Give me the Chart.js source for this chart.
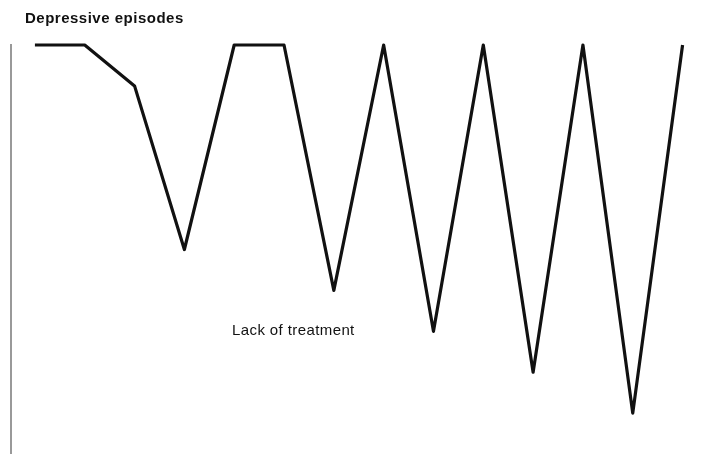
<!DOCTYPE html>
<html>
<head>
<meta charset="utf-8">
<script src="https://cdn.jsdelivr.net/npm/chart.js@4.4.1/dist/chart.umd.min.js"></script>
<style>
  html, body { margin: 0; padding: 0; background: #fff; }
  #wrap { position: relative; width: 703px; height: 454px; }
  .lbl { position: absolute; font-family: "Liberation Sans", Arial, sans-serif; color: #111; white-space: nowrap; }
  #title { left: 25px; top: 9px; font-size: 15px; font-weight: bold; letter-spacing: 0.5px; }
  #note { left: 232px; top: 321px; font-size: 15px; letter-spacing: 0.4px; }
</style>
</head>
<body>
<div id="wrap">
  <canvas id="chart" width="703" height="454"></canvas>
  <div class="lbl" id="title">Depressive episodes</div>
  <div class="lbl" id="note">Lack of treatment</div>
</div>
<script>
// time steps along the course of illness
const steps = [0, 1, 2, 3, 4, 5, 6, 7, 8, 9, 10, 11, 12, 13];
// mood level (0 = baseline, negative = depressive dip)
const mood = [0, 0, -10, -50, 0, 0, -60, 0, -70, 0, -80, 0, -90, 0];

const points = steps.map((s, i) => ({ x: s, y: mood[i] }));

new Chart(document.getElementById("chart"), {
  type: "line",
  data: {
    datasets: [{
      data: points,
      borderColor: "#111",
      borderWidth: 3.2,
      borderJoinStyle: "round",
      borderCapStyle: "butt",
      pointRadius: 0,
      tension: 0,
      clip: false
    }]
  },
  options: {
    responsive: false,
    animation: false,
    layout: { padding: { top: 45, left: 11, right: 0, bottom: 0 } },
    plugins: { legend: { display: false }, tooltip: { enabled: false } },
    scales: {
      x: {
        type: "linear",
        min: -0.48,
        max: 13.41,
        ticks: { display: false },
        grid: { display: false, drawTicks: false },
        border: { display: true, color: "#eee", width: 1 }
      },
      y: {
        min: -100,
        max: 0,
        ticks: { display: false },
        grid: { display: false, drawTicks: false },
        border: { display: true, color: "#999", width: 2 }
      }
    }
  }
});
</script>
</body>
</html>
